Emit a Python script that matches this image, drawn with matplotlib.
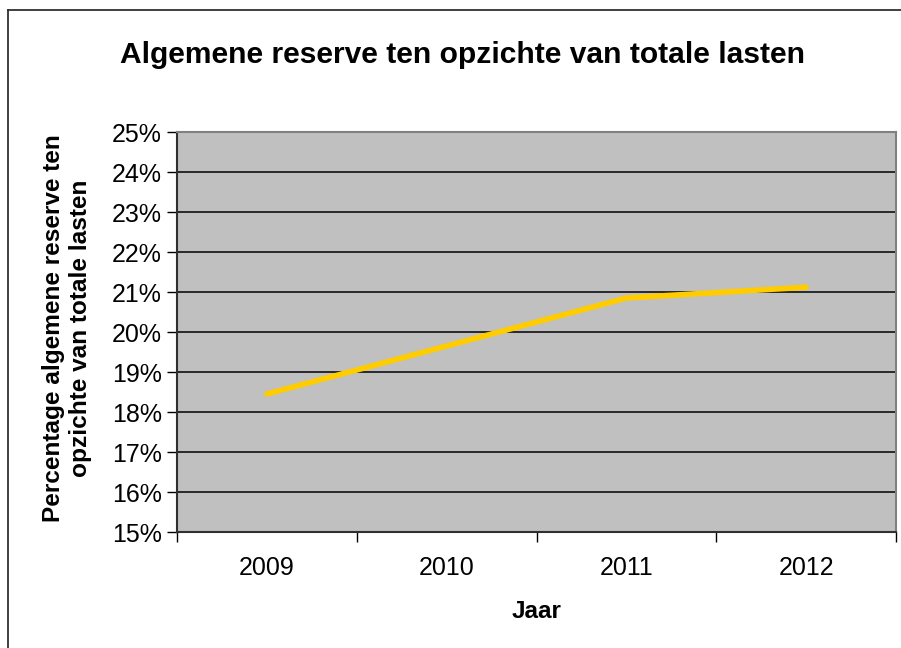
import matplotlib.pyplot as plt
from matplotlib.lines import Line2D
from matplotlib.ticker import FuncFormatter

jaren = ["2009", "2010", "2011", "2012"]
percentages = [18.45, 19.65, 20.85, 21.12]
y_ticks = list(range(15, 26))

plt.rcParams["font.family"] = ["Liberation Sans", "DejaVu Sans"]

fig = plt.figure(figsize=(9.01, 6.48), dpi=100)
ax = fig.add_axes([177 / 901, 1 - 532 / 648, 719 / 901, 400 / 648])

# rand rond de grafiek (alleen links en boven zichtbaar)
fig.add_artist(Line2D([8 / 901, 8 / 901], [0, 1 - 10 / 648], transform=fig.transFigure,
                      color="#303030", lw=1.3))
fig.add_artist(Line2D([8 / 901, 1], [1 - 10 / 648, 1 - 10 / 648], transform=fig.transFigure,
                      color="#303030", lw=1.3))

ax.set_facecolor("#C0C0C0")
x = range(len(jaren))
ax.plot(x, percentages, color="#FFCC00", lw=4, solid_capstyle="round", zorder=3)

ax.set_xlim(-0.5, len(jaren) - 0.5)
ax.set_ylim(15, 25)
ax.set_yticks(y_ticks)
ax.yaxis.set_major_formatter(FuncFormatter(lambda v, p: f"{v:.0f}%"))
ax.grid(axis="y", color="black", lw=1.1)
ax.set_axisbelow(True)

ax.set_xticks([i - 0.5 for i in range(len(jaren) + 1)])
ax.set_xticklabels([])
ax.set_xticks(list(x), minor=True)
ax.set_xticklabels(jaren, minor=True)
ax.tick_params(axis="x", which="major", length=7, width=1, color="black")
ax.tick_params(axis="x", which="minor", length=0, pad=17, labelsize=18)
ax.tick_params(axis="y", length=7, width=1, labelsize=18, pad=4)

ax.spines["left"].set_color("#303030")
ax.spines["left"].set_linewidth(1.5)
ax.spines["bottom"].set_color("#303030")
ax.spines["bottom"].set_linewidth(1.5)
ax.spines["top"].set_color("#808080")
ax.spines["top"].set_linewidth(1.5)
ax.spines["right"].set_color("#808080")
ax.spines["right"].set_linewidth(1.5)

fig.text(462 / 901, 1 - 55 / 648, "Algemene reserve ten opzichte van totale lasten",
         ha="center", va="center", fontsize=21.6, fontweight="bold")
fig.text(537 / 901, 1 - 612 / 648, "Jaar", ha="center", va="center",
         fontsize=17.5, fontweight="bold")
fig.text(67 / 901, 1 - 328 / 648, "Percentage algemene reserve ten\nopzichte van totale lasten",
         ha="center", va="center", rotation=90, fontsize=17.6, fontweight="bold",
         linespacing=1.2)

fig.savefig("out.png", dpi=100)
